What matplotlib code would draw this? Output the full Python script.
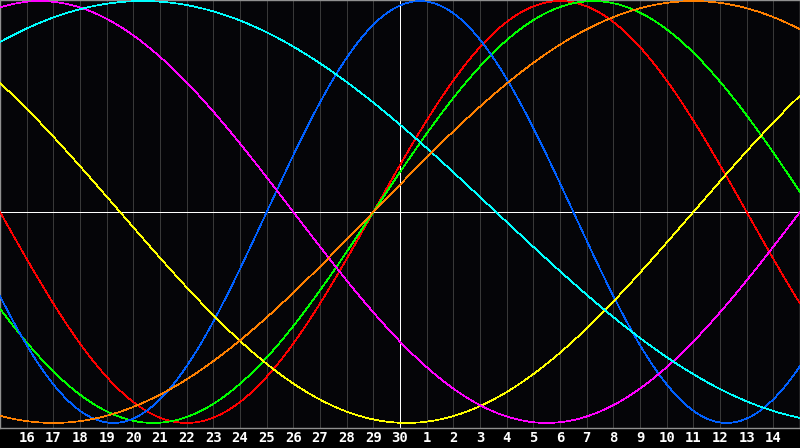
import numpy as np
import matplotlib
matplotlib.use('Agg')
import matplotlib.pyplot as plt

# day labels along the bottom, one per grid line (15th -> 15th of next month)
day_labels = ['16', '17', '18', '19', '20', '21', '22', '23', '24', '25', '26', '27', '28', '29', '30',
              '1', '2', '3', '4', '5', '6', '7', '8', '9', '10', '11', '12', '13', '14']
n_days = 30  # axis spans 30 days, x=0 is day 15

# cycles: colour, period (days), day of rising zero crossing (axis days)
colors = ['#ff0000', '#00ff00', '#0060ff', '#ffff00', '#ff00ff', '#00ffff', '#ff8000']
periods = [28, 33, 23, 43, 38, 53, 48]
zero_up = [14.0, 14.0, 10.0, 26.0, -8.0, -7.9, 14.0]

fig = plt.figure(figsize=(8, 4.48), dpi=100, facecolor='#000000')
ax = fig.add_axes([0, 20 / 448, 1, 428 / 448])
ax.set_facecolor('#050508')

# day grid
for k in range(1, n_days):
    ax.axvline(k, color='#383838', lw=0.5, antialiased=False, zorder=1)
ax.axvline(15, color='#ffffff', lw=0.5, antialiased=False, zorder=2)
ax.axhline(0, color='#ffffff', lw=0.5, antialiased=False, zorder=2)

t = np.linspace(0, n_days, 1600)
for c, p, t0 in zip(colors, periods, zero_up):
    ax.plot(t, np.sin(2 * np.pi * (t - t0) / p), color=c, lw=0.5, antialiased=False, zorder=3)

ax.set_xlim(0, n_days)
ax.set_ylim(-1.024, 1.005)
ax.set_xticks(range(1, n_days))
ax.set_xticklabels(day_labels, color='white', fontsize=10, fontweight='bold', family='DejaVu Sans Mono')
ax.tick_params(axis='x', length=0, pad=2)
ax.set_yticks([])
for s in ax.spines.values():
    s.set_color('#909090')
    s.set_linewidth(1.0)

fig.savefig('out.png', dpi=100, facecolor='#000000')
